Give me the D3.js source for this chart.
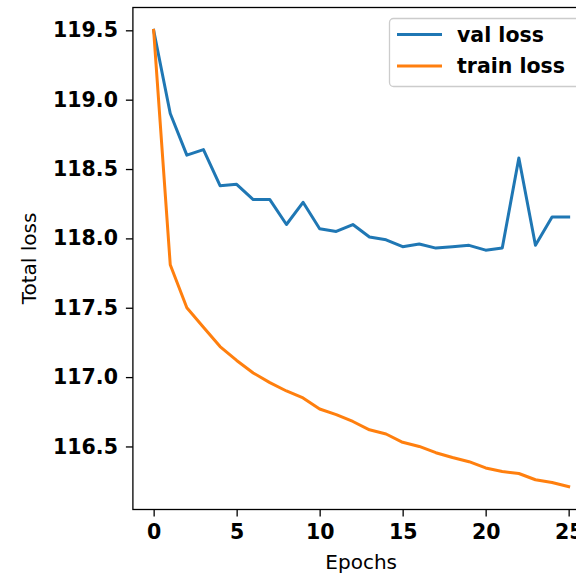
<!DOCTYPE html>
<html>
<head>
<meta charset="utf-8">
<script src="https://cdn.jsdelivr.net/npm/d3@7"></script>
<style>
  body { margin: 0; background: #fff; }
  svg { display: block; overflow: hidden; }
</style>
</head>
<body>
<div id="chart"></div>
<script>
// epochs and losses
const epochs = d3.range(0, 26);
const valLoss = [119.50, 118.90, 118.60, 118.64, 118.38, 118.39, 118.28, 118.28, 118.10, 118.26,
                 118.07, 118.05, 118.10, 118.01, 117.99, 117.94, 117.96, 117.93, 117.94, 117.95,
                 117.915, 117.93, 118.58, 117.95, 118.155, 118.155];
const trainLoss = [119.50, 117.81, 117.50, 117.36, 117.22, 117.12, 117.03, 116.96, 116.90, 116.85,
                   116.77, 116.73, 116.68, 116.62, 116.59, 116.53, 116.50, 116.455, 116.42, 116.39,
                   116.345, 116.32, 116.305, 116.26, 116.24, 116.21];
const xTicks = [0, 5, 10, 15, 20, 25];
const yTicks = [116.5, 117.0, 117.5, 118.0, 118.5, 119.0, 119.5];
const seriesNames = ["val loss", "train loss"];
const seriesColors = ["#1f77b4", "#ff7f0e"];

const W = 576, H = 578;
const margin = {top: 7.5, right: -13.4, bottom: 68.5, left: 132.9};
const width = W - margin.left - margin.right;
const height = H - margin.top - margin.bottom;

const svg = d3.select("#chart").append("svg")
    .attr("width", W)
    .attr("height", H);
const g = svg.append("g")
    .attr("transform", "translate(" + margin.left + "," + margin.top + ")");

const x = d3.scaleLinear().domain([-1.25, 26.25]).range([0, width]);
const yMin = 116.21, yMax = 119.50, pad = (yMax - yMin) * 0.05;
const y = d3.scaleLinear().domain([yMin - pad, yMax + pad]).range([height, 0]);

const tickFont = "'DejaVu Sans', sans-serif";

// axes
const xAxis = g.append("g")
    .attr("transform", "translate(0," + height + ")")
    .call(d3.axisBottom(x).tickValues(xTicks).tickFormat(d3.format("d")).tickSizeOuter(0).tickSize(7).tickPadding(8));
const yAxis = g.append("g")
    .call(d3.axisLeft(y).tickValues(yTicks).tickFormat(d3.format(".1f")).tickSizeOuter(0).tickSize(7).tickPadding(8));

[xAxis, yAxis].forEach(ax => {
    ax.select(".domain").remove();
    ax.selectAll(".tick line").attr("stroke", "#000").attr("stroke-width", 1.3);
    ax.selectAll(".tick text")
        .attr("fill", "#000")
        .style("font-family", tickFont)
        .style("font-weight", "bold")
        .style("font-size", "20.5px");
});
xAxis.selectAll(".tick text").attr("dy", "0.71em").attr("y", 15);

// frame
g.append("rect")
    .attr("x", 0).attr("y", 0)
    .attr("width", width).attr("height", height)
    .attr("fill", "none")
    .attr("stroke", "#000")
    .attr("stroke-width", 1.3);

// lines
const line = d3.line()
    .x((d, i) => x(epochs[i]))
    .y(d => y(d));

[valLoss, trainLoss].forEach((s, k) => {
    g.append("path")
        .datum(s)
        .attr("d", line)
        .attr("fill", "none")
        .attr("stroke", seriesColors[k])
        .attr("stroke-width", 3)
        .attr("stroke-linejoin", "round")
        .attr("stroke-linecap", "square");
});

// axis labels
svg.append("text")
    .attr("x", margin.left + width / 2)
    .attr("y", 569)
    .attr("text-anchor", "middle")
    .style("font-family", tickFont)
    .style("font-size", "20px")
    .text("Epochs");

svg.append("text")
    .attr("transform", "translate(36," + (margin.top + height / 2) + ") rotate(-90)")
    .attr("text-anchor", "middle")
    .style("font-family", tickFont)
    .style("font-size", "20px")
    .text("Total loss");

// legend
const lg = svg.append("g");
lg.append("rect")
    .attr("x", 389.5).attr("y", 18.5)
    .attr("width", 195).attr("height", 68)
    .attr("rx", 4)
    .attr("fill", "#fff").attr("fill-opacity", 0.8)
    .attr("stroke", "#ccc").attr("stroke-width", 1.3);
seriesNames.forEach((name, i) => {
    const yy = 34.5 + i * 31.5;
    lg.append("line")
        .attr("x1", 397).attr("x2", 442)
        .attr("y1", yy).attr("y2", yy)
        .attr("stroke", seriesColors[i])
        .attr("stroke-width", 3);
    lg.append("text")
        .attr("x", 457)
        .attr("y", yy + 7)
        .style("font-family", tickFont)
        .style("font-weight", "bold")
        .style("font-size", "20.5px")
        .text(name);
});
</script>
</body>
</html>
